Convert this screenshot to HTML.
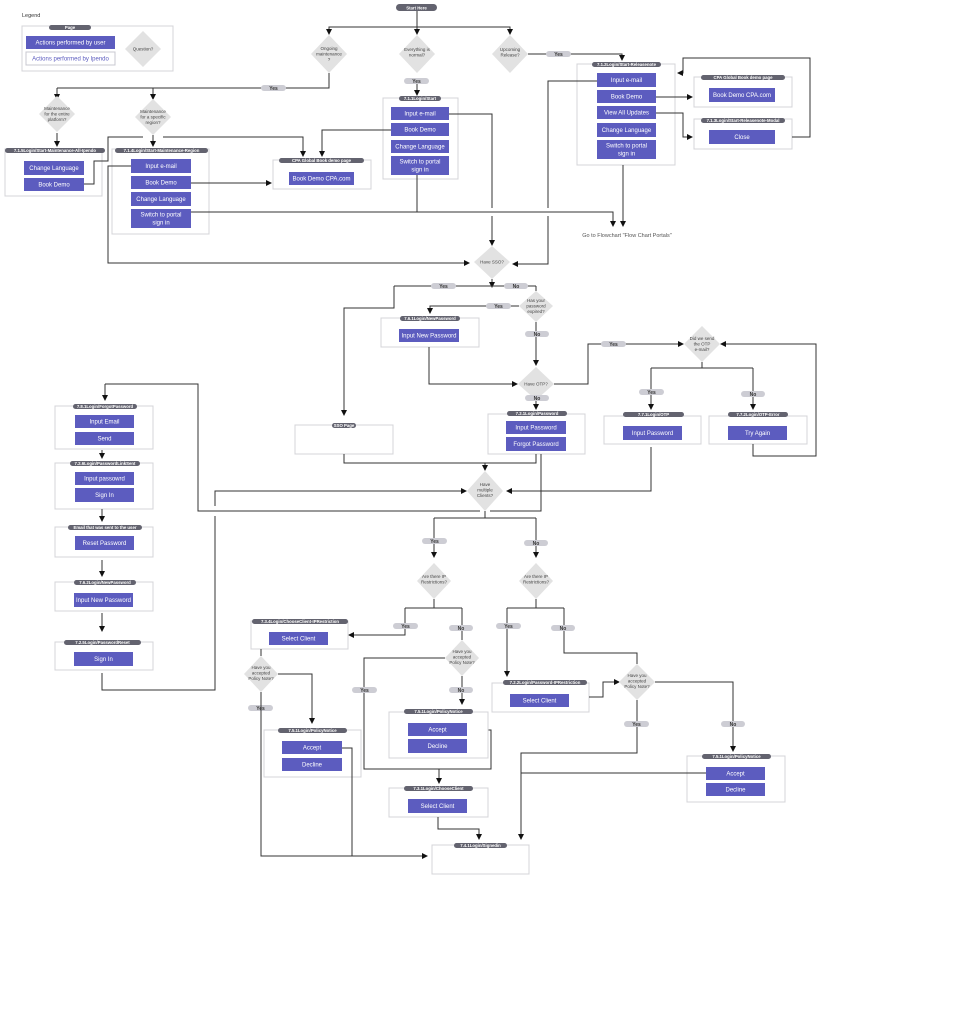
<!DOCTYPE html>
<html><head><meta charset="utf-8"><style>
html,body{margin:0;padding:0;background:#fff;}
svg{display:block;}
text{font-family:"Liberation Sans",sans-serif;}
.b{fill:#5c5cbf;}
.bt{fill:#fff;font-size:6px;text-anchor:middle;}
.pg{fill:#fff;stroke:#d4d4d8;stroke-width:1;}
.pl{fill:#63636f;}
.pt{fill:#fff;font-size:4.3px;text-anchor:middle;font-weight:bold;}
.dm{fill:#e2e2e2;}
.dt{fill:#444;font-size:4.5px;text-anchor:middle;}
.yn{fill:#cdcdd4;}
.yt{fill:#333;font-size:5px;text-anchor:middle;font-weight:bold;}
.l{fill:none;stroke:#333;stroke-width:1;marker-end:url(#a);}
.n{fill:none;stroke:#333;stroke-width:1;}
</style></head><body>
<svg width="953" height="1024" viewBox="0 0 953 1024" xmlns="http://www.w3.org/2000/svg">
<defs><marker id="a" markerWidth="6" markerHeight="6" refX="5" refY="3" orient="auto" markerUnits="userSpaceOnUse"><path d="M0,0 L6,3 L0,6 z" fill="#111"/></marker></defs>

<!-- Legend -->
<text x="22" y="17" font-size="5.5" fill="#333">Legend</text>
<rect class="pg" x="22" y="26" width="151" height="45"/>
<rect class="pl" x="49" y="25" width="42" height="5" rx="2.5"/><text class="pt" x="70" y="29">Page</text>
<rect class="b" x="26" y="36" width="89" height="13"/><text class="bt" x="70.5" y="44.5">Actions performed by user</text>
<rect x="26" y="52" width="89" height="13" fill="#fff" stroke="#c8c8d0"/><text x="70.5" y="60.5" font-size="6" fill="#5c5cbf" text-anchor="middle">Actions performed by Ipendo</text>
<polygon class="dm" points="143,31 161,49 143,67 125,49"/><text class="dt" x="143" y="50.5">Question?</text>

<!-- Start -->
<rect class="pl" x="396" y="4" width="41" height="7" rx="3.5"/><text class="pt" x="416.5" y="9.3">Start Here</text>
<path class="l" d="M417,11 V34"/>
<path class="l" d="M417,27 H329 V34"/>
<path class="l" d="M417,27 H510 V34"/>

<!-- top diamonds -->
<polygon class="dm" points="329,35 347,54 329,73 311,54"/><text class="dt" x="329" y="50">Ongoing</text><text class="dt" x="329" y="55.5">maintenance</text><text class="dt" x="329" y="61">?</text>
<polygon class="dm" points="417,35 435,54 417,73 399,54"/><text class="dt" x="417" y="51">Everything is</text><text class="dt" x="417" y="56.5">normal?</text>
<polygon class="dm" points="510,35 528,54 510,73 492,54"/><text class="dt" x="510" y="51">Upcoming</text><text class="dt" x="510" y="56.5">Release?</text>

<path class="n" d="M329,73 V88 H57"/>
<path class="l" d="M57,88 V99"/><path class="l" d="M153,88 V99"/>
<rect class="yn" x="261" y="85" width="25" height="6" rx="3"/><text class="yt" x="273.5" y="90">Yes</text>

<polygon class="dm" points="57,96 75,114 57,132 39,114"/><text class="dt" x="57" y="110">Maintenance</text><text class="dt" x="57" y="115.5">for the entire</text><text class="dt" x="57" y="121">platform?</text>
<polygon class="dm" points="153,99 171,117 153,135 135,117"/><text class="dt" x="153" y="113">Maintenance</text><text class="dt" x="153" y="118.5">for a specific</text><text class="dt" x="153" y="124">region?</text>

<path class="l" d="M57,133 V146"/>
<rect class="pg" x="5" y="149" width="97" height="47"/>
<rect class="pl" x="5" y="148" width="100" height="5" rx="2.5"/><text class="pt" x="55" y="152">7.1.5Login/Start-Maintenance-All-Ipendo</text>
<rect class="b" x="24" y="161" width="60" height="14"/><text class="bt" x="54" y="170">Change Language</text>
<rect class="b" x="24" y="178" width="60" height="13"/><text class="bt" x="54" y="186.5">Book Demo</text>
<path class="l" d="M84,184 H94 V161 H108 V137 H143 M163,137 H303 V156"/>

<path class="l" d="M153,135 V146"/>
<rect class="pg" x="112" y="149" width="97" height="85"/>
<rect class="pl" x="115" y="148" width="93" height="5" rx="2.5"/><text class="pt" x="161.5" y="152">7.1.4Login/Start-Maintenance-Region</text>
<rect class="b" x="131" y="159" width="60" height="14"/><text class="bt" x="161" y="168">Input e-mail</text>
<rect class="b" x="131" y="176" width="60" height="13"/><text class="bt" x="161" y="184.5">Book Demo</text>
<rect class="b" x="131" y="192" width="60" height="14"/><text class="bt" x="161" y="201">Change Language</text>
<rect class="b" x="131" y="209" width="60" height="19"/><text class="bt" x="161" y="216.5">Switch to portal</text><text class="bt" x="161" y="224.5">sign in</text>
<path class="l" d="M131,166 H108 V263 H469"/>
<path class="l" d="M191,183 H271"/>
<path class="l" d="M191,212 H613 V226"/>

<rect class="pg" x="273" y="160" width="98" height="29"/>
<rect class="pl" x="279" y="158" width="85" height="5" rx="2.5"/><text class="pt" x="321.5" y="162">CPA Global Book demo page</text>
<rect class="b" x="289" y="172" width="65" height="13"/><text class="bt" x="321.5" y="180.5">Book Demo CPA.com</text>

<!-- 7.1.1 -->
<rect class="yn" x="404" y="78" width="25" height="6" rx="3"/><text class="yt" x="416.5" y="83">Yes</text>
<path class="l" d="M417,84 V95"/>
<rect class="pg" x="383" y="98" width="75" height="81"/>
<rect class="pl" x="399" y="96" width="42" height="5" rx="2.5"/><text class="pt" x="420" y="100">7.1.1Login/Start</text>
<rect class="b" x="391" y="107" width="58" height="13"/><text class="bt" x="420" y="115.5">Input e-mail</text>
<rect class="b" x="391" y="123" width="58" height="13"/><text class="bt" x="420" y="131.5">Book Demo</text>
<rect class="b" x="391" y="140" width="58" height="13"/><text class="bt" x="420" y="148.5">Change Language</text>
<rect class="b" x="391" y="156" width="58" height="19"/><text class="bt" x="420" y="163.5">Switch to portal</text><text class="bt" x="420" y="171.5">sign in</text>
<path class="l" d="M391,130 H322 V156"/>
<path class="n" d="M417,175 V212"/>
<path class="l" d="M449,114 H492 V208 M492,216 V245"/>

<!-- release -->
<path class="l" d="M528,54 H622 V60"/>
<rect class="yn" x="546" y="51" width="25" height="6" rx="3"/><text class="yt" x="558.5" y="56">Yes</text>
<rect class="pg" x="577" y="64" width="98" height="101"/>
<rect class="pl" x="592" y="62" width="69" height="5" rx="2.5"/><text class="pt" x="626.5" y="66">7.1.2Login/Start-Releasenote</text>
<rect class="b" x="597" y="73" width="59" height="14"/><text class="bt" x="626.5" y="82">Input e-mail</text>
<rect class="b" x="597" y="90" width="59" height="13"/><text class="bt" x="626.5" y="98.5">Book Demo</text>
<rect class="b" x="597" y="106" width="59" height="13"/><text class="bt" x="626.5" y="114.5">View All Updates</text>
<rect class="b" x="597" y="123" width="59" height="14"/><text class="bt" x="626.5" y="132">Change Language</text>
<rect class="b" x="597" y="140" width="59" height="19"/><text class="bt" x="626.5" y="147.5">Switch to portal</text><text class="bt" x="626.5" y="155.5">sign in</text>
<path class="l" d="M597,81 H548 V208 M548,216 V264 H513"/>
<path class="l" d="M656,97 H692"/>
<path class="l" d="M656,113 H683 V137 H692"/>
<path class="l" d="M623,165 V226"/>
<text x="627" y="237" font-size="5.5" fill="#555" text-anchor="middle">Go to Flowchart "Flow Chart Portals"</text>

<rect class="pg" x="694" y="77" width="98" height="30"/>
<rect class="pl" x="701" y="75" width="84" height="5" rx="2.5"/><text class="pt" x="743" y="79">CPA Global Book demo page</text>
<rect class="b" x="709" y="88" width="66" height="14"/><text class="bt" x="742" y="97">Book Demo CPA.com</text>
<rect class="pg" x="694" y="119" width="98" height="30"/>
<rect class="pl" x="701" y="118" width="84" height="5" rx="2.5"/><text class="pt" x="743" y="122">7.1.3Login/Start-Releasenote-Modal</text>
<rect class="b" x="709" y="130" width="66" height="14"/><text class="bt" x="742" y="139">Close</text>
<path class="l" d="M792,137 H810 V58 H683 V73 H678"/>

<!-- SSO -->
<polygon class="dm" points="492,246 510,262 492,279 474,262"/><text class="dt" x="492" y="263.5">Have SSO?</text>
<path class="l" d="M492,279 V287"/>
<path class="n" d="M394,286 H536"/>
<rect class="yn" x="431" y="283" width="25" height="6" rx="3"/><text class="yt" x="443.5" y="288">Yes</text>
<rect class="yn" x="504" y="283" width="24" height="6" rx="3"/><text class="yt" x="516" y="288">No</text>
<path class="l" d="M394,286 V308 H344 V415"/>
<path class="n" d="M536,286 V291"/>
<polygon class="dm" points="536,291 553,306 536,322 519,306"/><text class="dt" x="536" y="302">Has your</text><text class="dt" x="536" y="307.5">password</text><text class="dt" x="536" y="313">expired?</text>
<path class="l" d="M519,306 H430 V313"/>
<rect class="yn" x="486" y="303" width="25" height="6" rx="3"/><text class="yt" x="498.5" y="308">Yes</text>
<rect class="pg" x="381" y="318" width="98" height="29"/>
<rect class="pl" x="400" y="316" width="60" height="5" rx="2.5"/><text class="pt" x="430" y="320">7.6.1Login/NewPassword</text>
<rect class="b" x="399" y="329" width="60" height="13"/><text class="bt" x="429" y="337.5">Input New Password</text>
<path class="l" d="M536,322 V365"/>
<rect class="yn" x="525" y="331" width="24" height="6" rx="3"/><text class="yt" x="537" y="336">No</text>
<path class="l" d="M429,347 V384 H517"/>
<polygon class="dm" points="536,367 554,384 536,400 518,384"/><text class="dt" x="536" y="385.5">Have OTP?</text>
<path class="l" d="M554,384 H588 V344 H683"/>
<rect class="yn" x="601" y="341" width="25" height="6" rx="3"/><text class="yt" x="613.5" y="346">Yes</text>
<rect class="yn" x="525" y="395" width="24" height="6" rx="3"/><text class="yt" x="537" y="400">No</text>
<path class="l" d="M536,401 V409"/>

<polygon class="dm" points="702,326 720,344 702,362 684,344"/><text class="dt" x="702" y="340">Did we send</text><text class="dt" x="702" y="345.5">the OTP</text><text class="dt" x="702" y="351">e-mail?</text>
<path class="n" d="M702,362 V368 M651,368 H753"/>
<path class="l" d="M651,368 V409"/><path class="l" d="M753,368 V409"/>
<rect class="yn" x="639" y="389" width="25" height="6" rx="3"/><text class="yt" x="651.5" y="394">Yes</text>
<rect class="yn" x="741" y="391" width="24" height="6" rx="3"/><text class="yt" x="753" y="396">No</text>

<rect class="pg" x="604" y="416" width="97" height="28"/>
<rect class="pl" x="623" y="412" width="61" height="5" rx="2.5"/><text class="pt" x="653.5" y="416">7.7.1Login/OTP</text>
<rect class="b" x="623" y="426" width="59" height="14"/><text class="bt" x="652.5" y="435">Input Password</text>
<rect class="pg" x="709" y="416" width="98" height="28"/>
<rect class="pl" x="728" y="412" width="60" height="5" rx="2.5"/><text class="pt" x="758" y="416">7.7.2Login/OTP-Error</text>
<rect class="b" x="728" y="426" width="59" height="14"/><text class="bt" x="757.5" y="435">Try Again</text>
<path class="l" d="M753,444 V456 H816 V344 H721"/>
<path class="l" d="M651,447 V491 H507"/>

<rect class="pg" x="488" y="414" width="97" height="40"/>
<rect class="pl" x="507" y="411" width="60" height="5" rx="2.5"/><text class="pt" x="537" y="415">7.2.1Login/Password</text>
<rect class="b" x="506" y="421" width="60" height="13"/><text class="bt" x="536" y="429.5">Input Password</text>
<rect class="b" x="506" y="437" width="60" height="14"/><text class="bt" x="536" y="446">Forgot Password</text>

<rect class="pg" x="295" y="425" width="98" height="29"/>
<rect class="pl" x="332" y="423" width="24" height="5" rx="2.5"/><text class="pt" x="344" y="427">SSO Page</text>
<path class="n" d="M344,454 V463 H536 V454"/>
<path class="l" d="M485,463 V470"/>
<path class="n" d="M541,454 V511 H490 M480,511 H198 V384 H105"/>
<path class="l" d="M105,384 V400"/>

<polygon class="dm" points="485,471 503,491 485,511 467,491"/><text class="dt" x="485" y="486">Have</text><text class="dt" x="485" y="491.5">multiple</text><text class="dt" x="485" y="497">Clients?</text>
<path class="l" d="M102,673 V690 H215 V516 M215,506 V491 H466"/>

<!-- left column -->
<rect class="pg" x="55" y="406" width="98" height="43"/>
<rect class="pl" x="73" y="404" width="64" height="5" rx="2.5"/><text class="pt" x="105" y="408">7.8.1Login/ForgotPassword</text>
<rect class="b" x="75" y="415" width="59" height="13"/><text class="bt" x="104.5" y="423.5">Input Email</text>
<rect class="b" x="75" y="432" width="59" height="13"/><text class="bt" x="104.5" y="440.5">Send</text>
<path class="l" d="M102,450 V458"/>
<rect class="pg" x="55" y="463" width="98" height="46"/>
<rect class="pl" x="70" y="461" width="70" height="5" rx="2.5"/><text class="pt" x="105" y="465">7.2.6Login/PasswordLinkSent</text>
<rect class="b" x="75" y="472" width="59" height="13"/><text class="bt" x="104.5" y="480.5">Input passowrd</text>
<rect class="b" x="75" y="488" width="59" height="14"/><text class="bt" x="104.5" y="497">Sign In</text>
<path class="l" d="M102,509 V521"/>
<rect class="pg" x="55" y="527" width="98" height="30"/>
<rect class="pl" x="68" y="525" width="74" height="5" rx="2.5"/><text class="pt" x="105" y="529">Email that was sent to the user</text>
<rect class="b" x="75" y="536" width="59" height="14"/><text class="bt" x="104.5" y="545">Reset Password</text>
<path class="l" d="M102,560 V576"/>
<rect class="pg" x="55" y="582" width="98" height="29"/>
<rect class="pl" x="74" y="580" width="62" height="5" rx="2.5"/><text class="pt" x="105" y="584">7.6.2Login/NewPassword</text>
<rect class="b" x="74" y="593" width="59" height="14"/><text class="bt" x="103.5" y="602">Input New Password</text>
<path class="l" d="M102,613 V631"/>
<rect class="pg" x="55" y="642" width="98" height="28"/>
<rect class="pl" x="64" y="640" width="77" height="5" rx="2.5"/><text class="pt" x="102.5" y="644">7.2.5Login/PasswordReset</text>
<rect class="b" x="74" y="652" width="59" height="14"/><text class="bt" x="103.5" y="661">Sign In</text>

<!-- clients -->
<path class="n" d="M485,511 V518 M434,518 H536"/>
<path class="l" d="M434,518 V557"/><path class="l" d="M536,518 V557"/>
<rect class="yn" x="422" y="538" width="25" height="6" rx="3"/><text class="yt" x="434.5" y="543">Yes</text>
<rect class="yn" x="524" y="540" width="24" height="6" rx="3"/><text class="yt" x="536" y="545">No</text>
<polygon class="dm" points="434,563 451,581 434,599 417,581"/><text class="dt" x="434" y="578">Are there IP</text><text class="dt" x="434" y="583.5">Restrictions?</text>
<polygon class="dm" points="536,563 553,581 536,599 519,581"/><text class="dt" x="536" y="578">Are there IP</text><text class="dt" x="536" y="583.5">Restrictions?</text>
<path class="n" d="M434,599 V608 M405,608 H462"/>
<path class="l" d="M405,608 V635 H349"/>
<rect class="yn" x="393" y="623" width="25" height="6" rx="3"/><text class="yt" x="405.5" y="628">Yes</text>
<path class="n" d="M462,608 V640"/>
<rect class="yn" x="449" y="625" width="24" height="6" rx="3"/><text class="yt" x="461" y="630">No</text>

<rect class="pg" x="251" y="621" width="97" height="28"/>
<rect class="pl" x="252" y="619" width="96" height="5" rx="2.5"/><text class="pt" x="300" y="623">7.3.4Login/ChooseClient-IPRestriction</text>
<rect class="b" x="269" y="632" width="59" height="13"/><text class="bt" x="298.5" y="640.5">Select Client</text>
<path class="n" d="M261,649 V656"/>
<polygon class="dm" points="261,656 278,674 261,692 244,674"/><text class="dt" x="261" y="669">Have you</text><text class="dt" x="261" y="674.5">accepted</text><text class="dt" x="261" y="680">Policy Note?</text>
<path class="l" d="M278,674 H312 V723"/>
<rect class="yn" x="248" y="705" width="25" height="6" rx="3"/><text class="yt" x="260.5" y="710">Yes</text>
<path class="l" d="M261,692 V856 H427"/>
<rect class="pg" x="264" y="730" width="97" height="47"/>
<rect class="pl" x="278" y="728" width="69" height="5" rx="2.5"/><text class="pt" x="312.5" y="732">7.5.1Login/PolicyNotice</text>
<rect class="b" x="282" y="741" width="60" height="13"/><text class="bt" x="312" y="749.5">Accept</text>
<rect class="b" x="282" y="758" width="60" height="13"/><text class="bt" x="312" y="766.5">Decline</text>
<path class="n" d="M342,748 H352 V856"/>

<polygon class="dm" points="462,640 479,658 462,676 445,658"/><text class="dt" x="462" y="653">Have you</text><text class="dt" x="462" y="658.5">accepted</text><text class="dt" x="462" y="664">Policy Note?</text>
<path class="l" d="M462,676 V704"/>
<rect class="yn" x="449" y="687" width="24" height="6" rx="3"/><text class="yt" x="461" y="692">No</text>
<path class="n" d="M445,658 H364 V769 H491 V730 H467"/>
<rect class="yn" x="352" y="687" width="25" height="6" rx="3"/><text class="yt" x="364.5" y="692">Yes</text>
<rect class="pg" x="389" y="712" width="99" height="46"/>
<rect class="pl" x="404" y="709" width="69" height="5" rx="2.5"/><text class="pt" x="438.5" y="713">7.5.1Login/PolicyNotice</text>
<rect class="b" x="408" y="723" width="59" height="13"/><text class="bt" x="437.5" y="731.5">Accept</text>
<rect class="b" x="408" y="739" width="59" height="14"/><text class="bt" x="437.5" y="748">Decline</text>
<path class="l" d="M439,769 V783"/>
<rect class="pg" x="389" y="788" width="99" height="29"/>
<rect class="pl" x="404" y="786" width="69" height="5" rx="2.5"/><text class="pt" x="438.5" y="790">7.3.1Login/ChooseClient</text>
<rect class="b" x="408" y="799" width="59" height="14"/><text class="bt" x="437.5" y="808">Select Client</text>
<path class="l" d="M438,817 V829 H479 V839"/>

<rect class="pg" x="432" y="845" width="97" height="29"/>
<rect class="pl" x="454" y="843" width="53" height="5" rx="2.5"/><text class="pt" x="480.5" y="847">7.4.1Login/Signedin</text>

<path class="n" d="M536,599 V608 M507,608 H564"/>
<path class="l" d="M507,608 V676"/>
<rect class="yn" x="496" y="623" width="25" height="6" rx="3"/><text class="yt" x="508.5" y="628">Yes</text>
<path class="n" d="M564,608 V653 H637 V664"/>
<rect class="yn" x="551" y="625" width="24" height="6" rx="3"/><text class="yt" x="563" y="630">No</text>
<rect class="pg" x="492" y="683" width="97" height="29"/>
<rect class="pl" x="503" y="680" width="84" height="5" rx="2.5"/><text class="pt" x="545" y="684">7.2.2Login/Password-IPRestriction</text>
<rect class="b" x="510" y="694" width="59" height="13"/><text class="bt" x="539.5" y="702.5">Select Client</text>
<path class="l" d="M589,697 H603 V682 H619"/>
<polygon class="dm" points="637,664 655,682 637,700 619,682"/><text class="dt" x="637" y="677">Have you</text><text class="dt" x="637" y="682.5">accepted</text><text class="dt" x="637" y="688">Policy Note?</text>
<path class="l" d="M655,682 H733 V751"/>
<rect class="yn" x="721" y="721" width="24" height="6" rx="3"/><text class="yt" x="733" y="726">No</text>
<path class="l" d="M637,700 V753 H521 V839"/>
<rect class="yn" x="624" y="721" width="25" height="6" rx="3"/><text class="yt" x="636.5" y="726">Yes</text>
<rect class="pg" x="687" y="756" width="98" height="46"/>
<rect class="pl" x="702" y="754" width="69" height="5" rx="2.5"/><text class="pt" x="736.5" y="758">7.5.1Login/PolicyNotice</text>
<rect class="b" x="706" y="767" width="59" height="13"/><text class="bt" x="735.5" y="775.5">Accept</text>
<rect class="b" x="706" y="783" width="59" height="13"/><text class="bt" x="735.5" y="791.5">Decline</text>
<path class="n" d="M706,773 H521"/>
</svg>
</body></html>
